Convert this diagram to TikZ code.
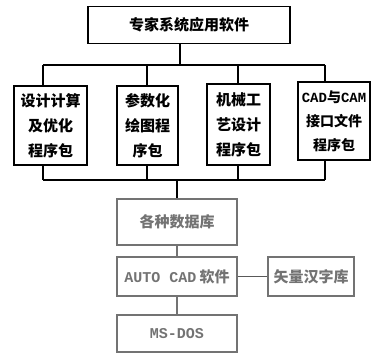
\documentclass[tikz,border=0pt]{standalone}
\usepackage{fontspec}
\setmainfont{Noto Sans CJK SC}
\newfontfamily\latin{Liberation Mono}

\begin{document}
\begin{tikzpicture}[x=1pt, y=-1pt, line width=1.2pt,
    box/.style={draw, rectangle, inner sep=0pt, align=center, font=\fontsize{15}{25}\selectfont\bfseries},
    pale/.style={box, draw=black!55, text=black!55}]
    \useasboundingbox (0,0) rectangle (371,354);

    % Top
    \node[box, minimum width=202pt, minimum height=37pt] (top) at (189,25) {专家系统应用软件};

    % Program packages
    \node[box, minimum width=73pt, minimum height=79pt] (pkg-1) at (50.5,125.5) {设计计算\\及优化\\程序包};
    \node[box, minimum width=61pt, minimum height=79pt] (pkg-2) at (147.5,125.5) {参数化\\绘图程\\序包};
    \node[box, minimum width=63pt, minimum height=81pt] (pkg-3) at (238.5,124.5) {机械工\\艺设计\\程序包};
    \node[box, minimum width=72pt, minimum height=78pt, font=\fontsize{14}{24}\selectfont\bfseries] (pkg-4) at (334,121) {{\latin\bfseries CAD}与{\latin\bfseries CAM}\\接口文件\\程序包};

    % Lower part
    \node[pale, minimum width=120pt, minimum height=46pt] (db) at (177,222) {各种数据库};
    \node[pale, minimum width=120pt, minimum height=39pt] (acad) at (177,276.5) {{\latin\bfseries AUTO CAD} 软件};
    \node[pale, minimum width=86pt, minimum height=39pt] (hz) at (311,276.5) {矢量汉字库};
    \node[pale, minimum width=120pt, minimum height=37pt] (dos) at (177,333.5) {\latin\bfseries MS-DOS};

    % Buses
    \coordinate (t) at (180,65);
    \coordinate (up-1) at (43,65);
    \coordinate (up-2) at (147,65);
    \coordinate (up-3) at (238,65);
    \coordinate (up-4) at (325,65);
    \coordinate (lo-1) at (43,180);
    \coordinate (lo-2) at (147,180);
    \coordinate (lo-3) at (238,180);
    \coordinate (lo-4) at (325,180);
    \coordinate (m) at (177,180);

    \draw (top.south -| t) -- (t);
    \draw (up-1) -- (up-4);
    \draw (lo-1) -- (lo-4);
    \foreach \i in {1,...,4} {
        \draw (up-\i) -- (pkg-\i.north -| up-\i);
        \draw (pkg-\i.south -| lo-\i) -- (lo-\i);
    }
    \draw (m) -- (db.north -| m);
    \draw[black!55] (db) -- (acad);
    \draw[black!55] (acad) -- (dos);
    \draw[black!65] (acad) -- (hz);
\end{tikzpicture}
\end{document}
